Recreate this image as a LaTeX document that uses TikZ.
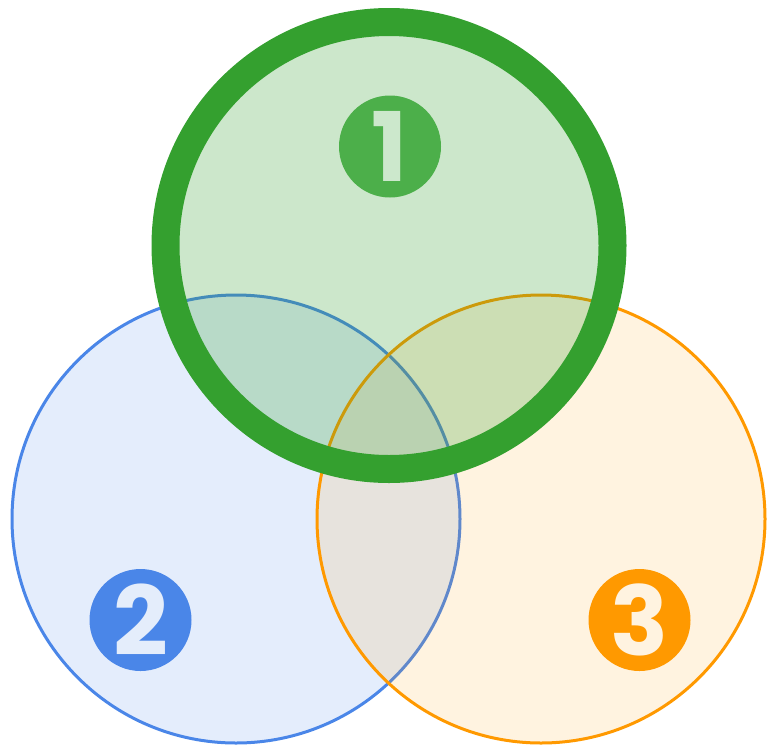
\documentclass[tikz,border=0pt]{standalone}
\usepackage{fontspec}
\setmainfont{Poppins}
\definecolor{gstroke}{HTML}{34A02F}
\definecolor{gbadge}{HTML}{4CAF4A}
\definecolor{gfillc}{HTML}{34A02F}
\definecolor{bstroke}{HTML}{4A86E8}
\definecolor{ostroke}{HTML}{FF9900}
\definecolor{gtext}{HTML}{CCE8CC}
\definecolor{btext}{HTML}{E4EDFB}
\definecolor{otext}{HTML}{FFF3E0}
\tikzset{
  setcircle/.style={circle, inner sep=0pt, outer sep=0pt, minimum size=448pt},
  badge/.style={circle, inner sep=0pt, outer sep=0pt, minimum size=102pt,
    font=\fontsize{96}{96}\selectfont\bfseries}
}
\begin{document}
\begin{tikzpicture}[x=1pt,y=-1pt]
\useasboundingbox (0,0) rectangle (767,747);
\node[setcircle, draw=bstroke, line width=3pt, fill=bstroke, fill opacity=0.15, draw opacity=1] (blue) at (236,519) {};
\node[setcircle, draw=ostroke, line width=3pt, fill=ostroke, fill opacity=0.12, draw opacity=1] (orange) at (541,519) {};
\node[setcircle, fill=gfillc, fill opacity=0.25] (greenfill) at (389,245.5) {};
\node[setcircle, minimum size=447pt, draw=gstroke, line width=28pt] (green) at (389,245.5) {};
\node[badge, fill=gbadge, text=gtext] (b1) at (390,146.5) {1};
\node[badge, fill=bstroke, text=btext] (b2) at (140.5,620) {2};
\node[badge, fill=ostroke, text=otext] (b3) at (639.5,620) {3};
\end{tikzpicture}
\end{document}
